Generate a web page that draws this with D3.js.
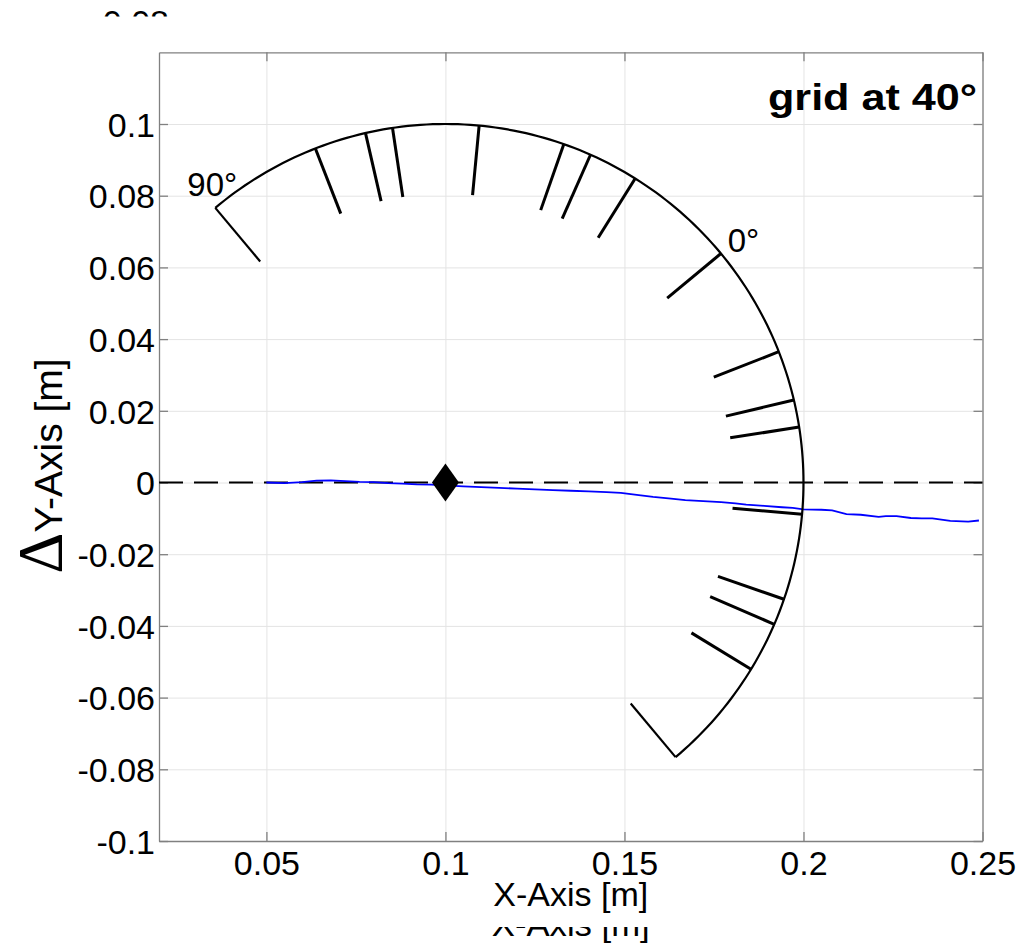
<!DOCTYPE html>
<html>
<head>
<meta charset="utf-8">
<script src="https://cdn.jsdelivr.net/npm/d3@7"></script>
<style>
  body { margin: 0; background: #fff; }
  text { font-family: "Liberation Sans", Arial, sans-serif; fill: #000; }
</style>
</head>
<body>
<svg id="chart" width="1028" height="944"></svg>
<script>
// axis ticks
const xTicks = [0.05, 0.1, 0.15, 0.2, 0.25]
const yTicks = [-0.1, -0.08, -0.06, -0.04, -0.02, 0, 0.02, 0.04, 0.06, 0.08, 0.1]
const xDomain = [0.02, 0.25]
const yDomain = [-0.1, 0.12]

// measured path (blue)
const pathX = [0.050, 0.055, 0.060, 0.064, 0.068, 0.072, 0.076, 0.080, 0.084, 0.088, 0.092, 0.096,
  0.100, 0.105, 0.110, 0.115, 0.120, 0.125, 0.130, 0.135, 0.140, 0.145, 0.149, 0.154, 0.158,
  0.163, 0.167, 0.172, 0.177, 0.181, 0.184, 0.189, 0.194, 0.197, 0.200, 0.205, 0.208, 0.212,
  0.216, 0.221, 0.223, 0.226, 0.230, 0.233, 0.236, 0.241, 0.246, 0.249]
const pathY = [0, -0.0002, 0.0001, 0.0005, 0.0006, 0.0004, 0.0002, 0.0001, -0.0002, -0.0003, -0.0005, -0.0006,
  -0.0008, -0.0011, -0.0013, -0.0015, -0.0017, -0.0019, -0.0021, -0.0023, -0.0025, -0.0027, -0.0029, -0.0035, -0.0040,
  -0.0045, -0.0049, -0.0052, -0.0055, -0.0058, -0.0062, -0.0065, -0.0069, -0.0071, -0.0075, -0.0076, -0.0078, -0.0088,
  -0.0090, -0.0096, -0.0094, -0.0094, -0.0099, -0.0100, -0.0100, -0.0107, -0.0109, -0.0106]

// protractor: grid orientation, centre, radius, marked directions (deg, relative to grid)
const gridDeg = 40
const center = [0.1, 0]
const radius = 0.1
const innerRadius = 0.0805
const arcSpan = [-90, 90]
const markAngles = [71.3, 62.9, 58.5, 44.6, 30.7, 26.1, 18.0, -0.3, -18.6, -26.7, -31.1, -45.1, -59.0, -63.3, -71.4]
const arcLabels = [{ deg: 90, text: "90°" }, { deg: 0, text: "0°" }]

const svg = d3.select("#chart")
const plotLeft = 159, plotRight = 982.5, plotTop = 52.3, plotBottom = 841

const x = d3.scaleLinear().domain(xDomain).range([plotLeft, plotRight])
const y = d3.scaleLinear().domain(yDomain).range([plotBottom, plotTop])

// grid
svg.append("g")
  .attr("transform", `translate(0,${plotBottom})`)
  .call(d3.axisBottom(x).tickValues(xTicks).tickSize(-(plotBottom - plotTop)).tickFormat(""))
  .call(g => g.select(".domain").remove())
  .call(g => g.selectAll("line").attr("stroke", "#e4e4e4").attr("stroke-width", 1))
svg.append("g")
  .attr("transform", `translate(${plotLeft},0)`)
  .call(d3.axisLeft(y).tickValues(yTicks).tickSize(-(plotRight - plotLeft)).tickFormat(""))
  .call(g => g.select(".domain").remove())
  .call(g => g.selectAll("line").attr("stroke", "#e4e4e4").attr("stroke-width", 1))

// axes with inward ticks, plain hyphen for negatives
const fmt = d => d3.format("~g")(d).replace("\u2212", "-")
const styleAxis = g => {
  g.select(".domain").attr("stroke", "#808080").attr("stroke-width", 1.3)
  g.selectAll(".tick line").attr("stroke", "#808080").attr("stroke-width", 1.3)
  g.selectAll("text").style("font-size", "34px").style("font-family", "Liberation Sans, Arial, sans-serif").attr("fill", "#000")
}
svg.append("g")
  .attr("transform", `translate(0,${plotBottom})`)
  .call(d3.axisBottom(x).tickValues(xTicks).tickSizeInner(-9).tickSizeOuter(0).tickPadding(10).tickFormat(fmt))
  .call(styleAxis)
svg.append("g")
  .attr("transform", `translate(${plotLeft},0)`)
  .call(d3.axisLeft(y).tickValues(yTicks).tickSizeInner(-9).tickSizeOuter(0).tickPadding(4).tickFormat(fmt))
  .call(styleAxis)
  .call(g => g.selectAll("text").attr("dy", "0.36em"))
svg.append("g")
  .attr("transform", `translate(0,${plotTop})`)
  .call(d3.axisTop(x).tickValues(xTicks).tickSizeInner(-9).tickSizeOuter(0).tickFormat(""))
  .call(styleAxis)
svg.append("g")
  .attr("transform", `translate(${plotRight},0)`)
  .call(d3.axisRight(y).tickValues(yTicks).tickSizeInner(-9).tickSizeOuter(0).tickFormat(""))
  .call(styleAxis)

// zero reference line
svg.append("line")
  .attr("x1", x(xDomain[0])).attr("x2", x(xDomain[1]))
  .attr("y1", y(0)).attr("y2", y(0))
  .attr("stroke", "#000").attr("stroke-width", 2)
  .attr("stroke-dasharray", "24,11")

// path
const line = d3.line().x(d => x(d[0])).y(d => y(d[1]))
svg.append("path")
  .datum(d3.zip(pathX, pathY))
  .attr("d", line)
  .attr("fill", "none")
  .attr("stroke", "#0000ff")
  .attr("stroke-width", 1.8)

// protractor
const polar = (deg, r) => {
  const a = (gridDeg + deg) * Math.PI / 180
  return [center[0] + r * Math.cos(a), center[1] + r * Math.sin(a)]
}
const arcPts = d3.range(arcSpan[0], arcSpan[1] + 0.5, 1).map(d => polar(d, radius))
svg.append("path")
  .attr("d", line(arcPts))
  .attr("fill", "none")
  .attr("stroke", "#000")
  .attr("stroke-width", 2.2)

svg.append("g").selectAll("line")
  .data(arcSpan)
  .join("line")
  .attr("x1", d => x(polar(d, radius)[0])).attr("y1", d => y(polar(d, radius)[1]))
  .attr("x2", d => x(polar(d, innerRadius)[0])).attr("y2", d => y(polar(d, innerRadius)[1]))
  .attr("stroke", "#000").attr("stroke-width", 2.2)

svg.append("g").selectAll("line")
  .data(markAngles)
  .join("line")
  .attr("x1", d => x(polar(d, radius)[0])).attr("y1", d => y(polar(d, radius)[1]))
  .attr("x2", d => x(polar(d, innerRadius)[0])).attr("y2", d => y(polar(d, innerRadius)[1]))
  .attr("stroke", "#000").attr("stroke-width", 3)

// arc labels
const labelOffset = { 90: [-3, -12, "middle"], 0: [8, 0, "start"] }
svg.append("g").selectAll("text")
  .data(arcLabels)
  .join("text")
  .attr("x", d => x(polar(d.deg, radius)[0]) + labelOffset[d.deg][0])
  .attr("y", d => y(polar(d.deg, radius)[1]) + labelOffset[d.deg][1])
  .attr("text-anchor", d => labelOffset[d.deg][2])
  .style("font-size", "33px")
  .text(d => d.text)

// start point marker
svg.append("path")
  .attr("transform", `translate(${x(center[0])},${y(center[1])})`)
  .attr("d", "M0,-19L13.5,0L0,19L-13.5,0Z")
  .attr("fill", "#000")

// annotation
svg.append("text")
  .attr("x", 768).attr("y", 110)
  .attr("textLength", 209).attr("lengthAdjust", "spacingAndGlyphs")
  .style("font-size", "36px").style("font-weight", "bold")
  .text("grid at 40°")

// axis labels
svg.append("text")
  .attr("x", (plotLeft + plotRight) / 2).attr("y", 906)
  .attr("text-anchor", "middle")
  .attr("textLength", 155).attr("lengthAdjust", "spacingAndGlyphs")
  .style("font-size", "33px")
  .text("X-Axis [m]")

const yl = svg.append("text")
  .attr("transform", "translate(62,466) rotate(-90)")
  .attr("text-anchor", "middle")
  .style("font-size", "39px")
yl.append("tspan").style("font-family", "Liberation Serif, Times New Roman, serif").style("font-size", "64px").text("Δ")
yl.append("tspan").text("Y-Axis [m]")

// clipped leftovers at the page edges
const defs = svg.append("defs")
defs.append("clipPath").attr("id", "clipTop").append("rect").attr("x", 0).attr("y", 0).attr("width", 1028).attr("height", 16.5)
defs.append("clipPath").attr("id", "clipBottom").append("rect").attr("x", 0).attr("y", 927).attr("width", 1028).attr("height", 17)
svg.append("text")
  .attr("clip-path", "url(#clipTop)")
  .attr("x", 169).attr("y", 34).attr("text-anchor", "end")
  .style("font-size", "34px")
  .text("0.08")
svg.append("text")
  .attr("clip-path", "url(#clipBottom)")
  .attr("x", (plotLeft + plotRight) / 2).attr("y", 936)
  .attr("text-anchor", "middle")
  .attr("textLength", 158).attr("lengthAdjust", "spacingAndGlyphs")
  .style("font-size", "33px")
  .text("X-Axis [m]")
</script>
</body>
</html>
